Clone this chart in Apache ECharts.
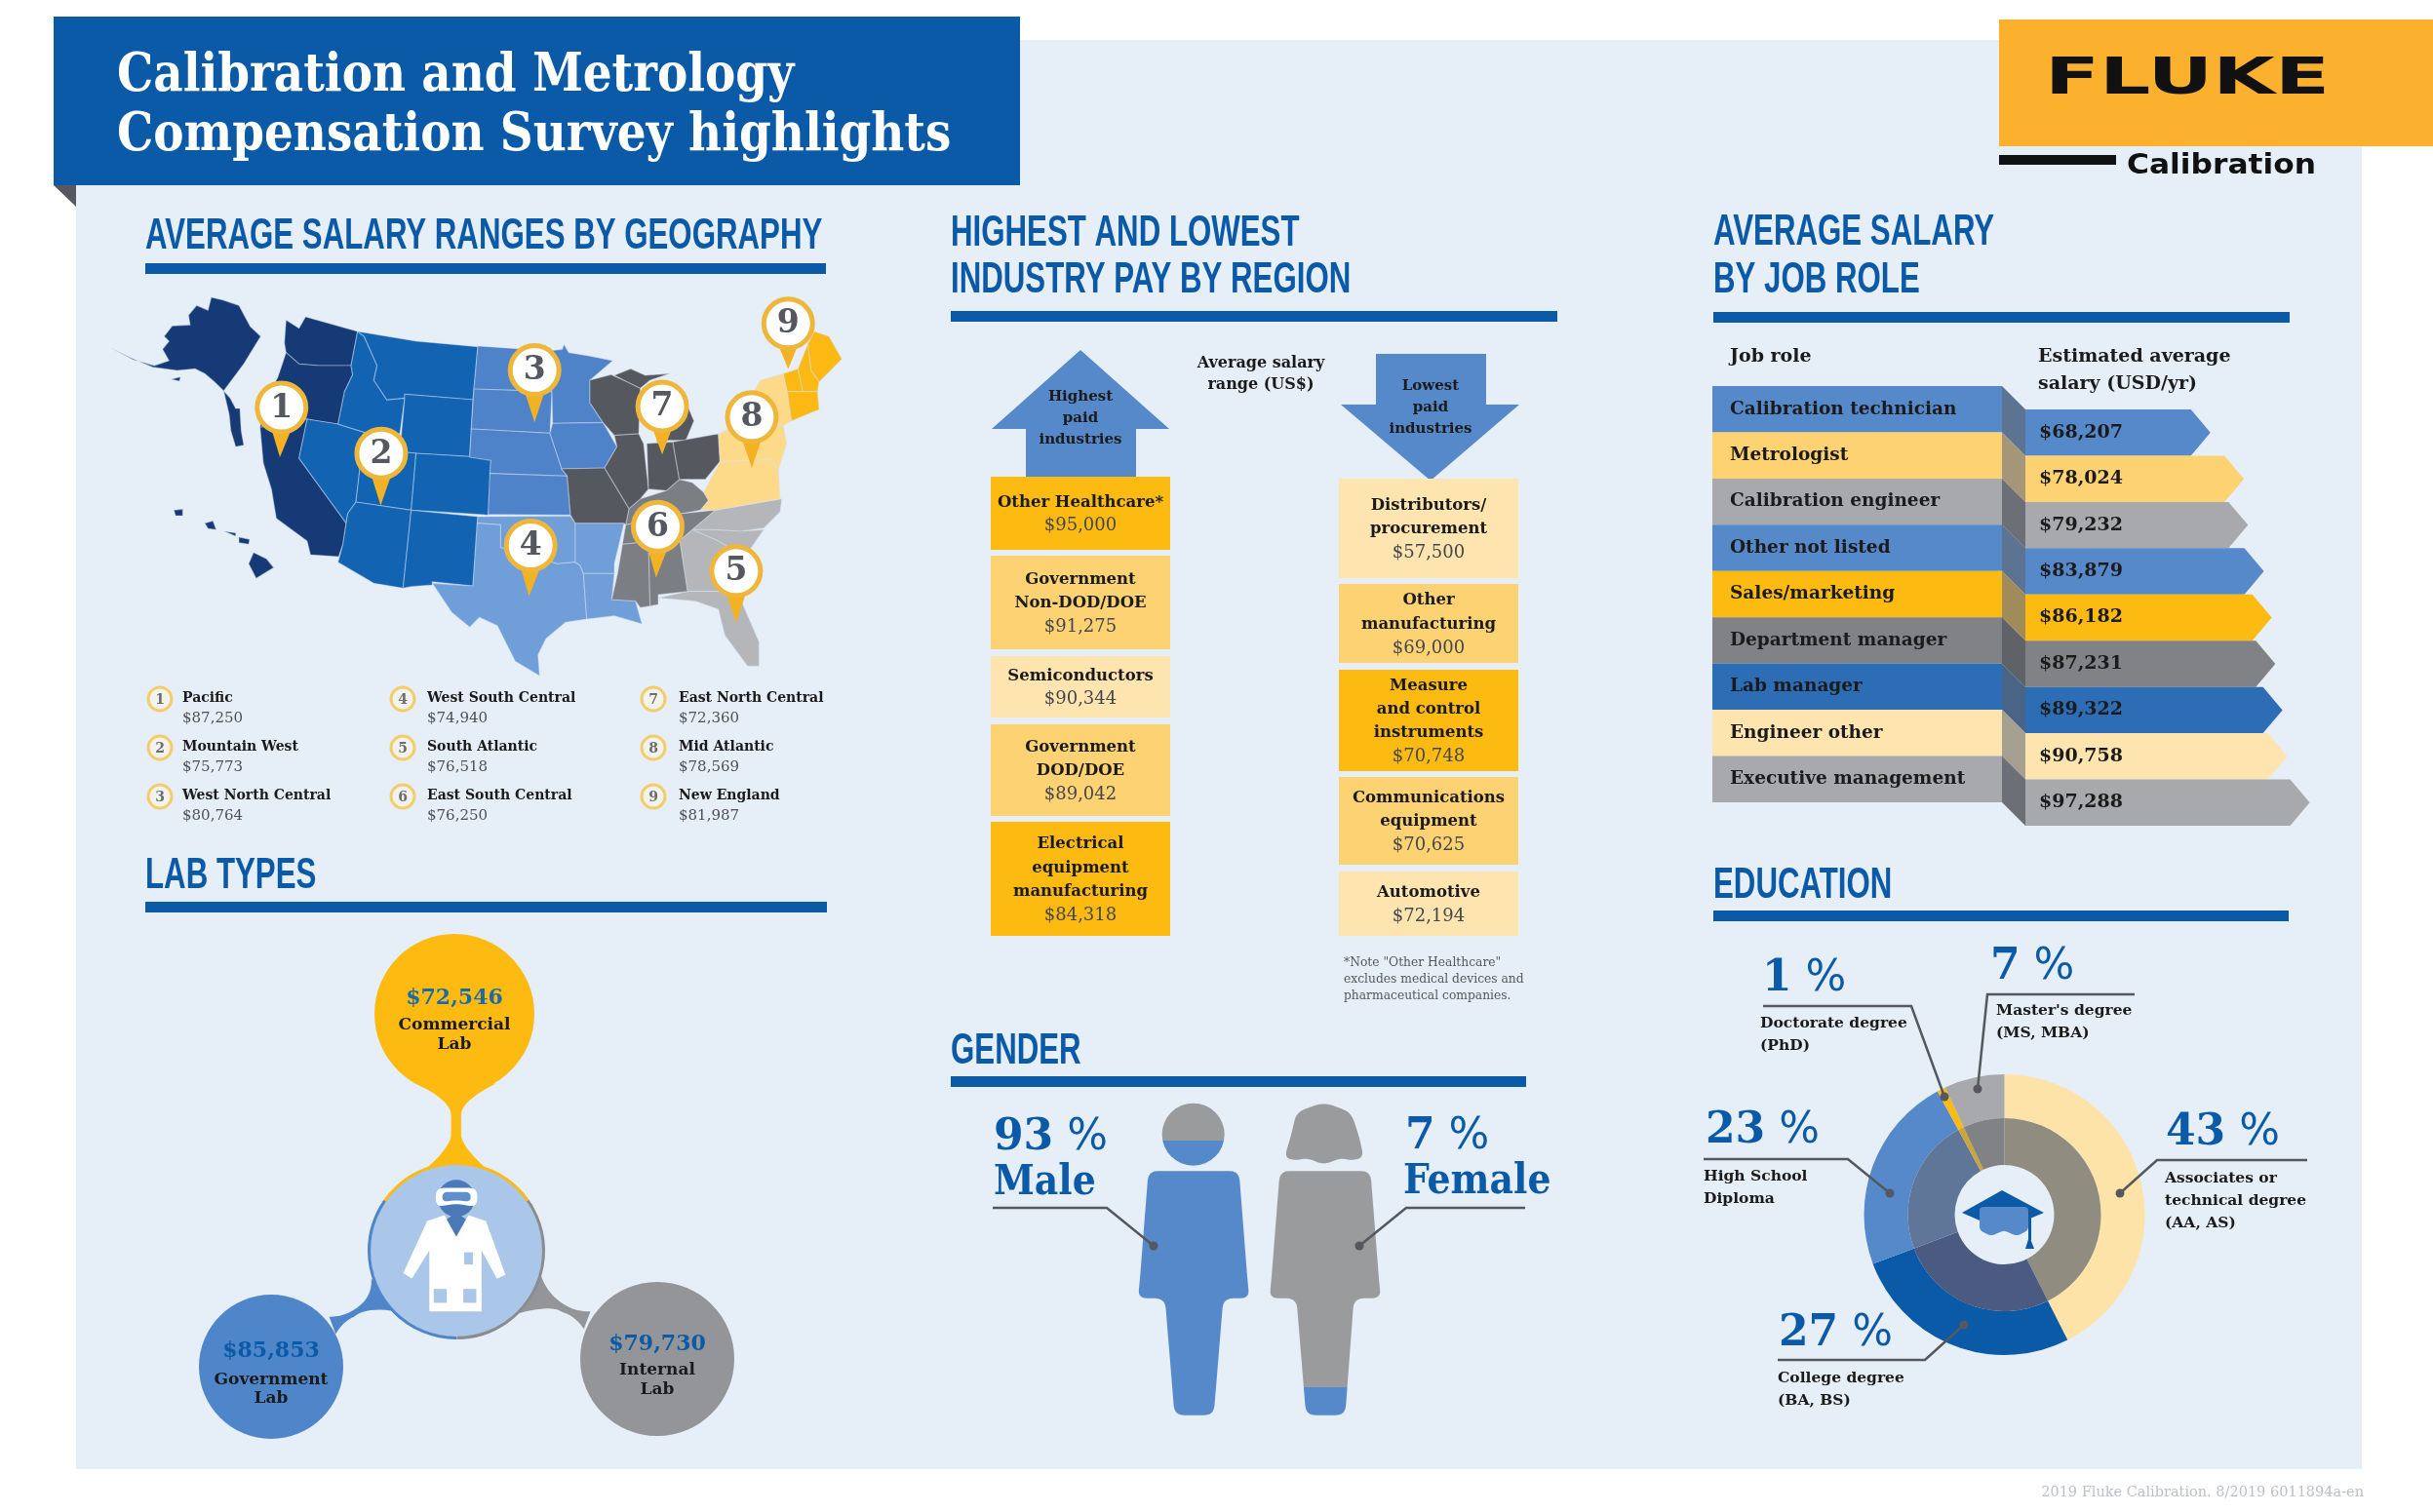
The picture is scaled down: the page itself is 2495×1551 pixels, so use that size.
<!DOCTYPE html>
<html>
<head>
<meta charset="utf-8">
<title>Calibration and Metrology Compensation Survey highlights</title>
<script src="https://cdn.jsdelivr.net/npm/echarts@6/dist/echarts.min.js"></script>
<style>html,body{margin:0;background:#fff}</style>
</head>
<body>
<div id="main" style="width:2495px;height:1551px;"></div>
<script>
// chart values
var regionNames = ['Pacific', 'Mountain West', 'West North Central', 'West South Central', 'South Atlantic', 'East South Central', 'East North Central', 'Mid Atlantic', 'New England'];
var regionSalaries = [87250, 75773, 80764, 74940, 76518, 76250, 72360, 78569, 81987];
var highestIndustries = ['Other Healthcare*', 'Government\nNon-DOD/DOE', 'Semiconductors', 'Government\nDOD/DOE', 'Electrical\nequipment\nmanufacturing'];
var highestPay = [95000, 91275, 90344, 89042, 84318];
var lowestIndustries = ['Distributors/\nprocurement', 'Other\nmanufacturing', 'Measure\nand control\ninstruments', 'Communications\nequipment', 'Automotive'];
var lowestPay = [57500, 69000, 70748, 70625, 72194];
var jobRoles = ['Calibration technician', 'Metrologist', 'Calibration engineer', 'Other not listed', 'Sales/marketing', 'Department manager', 'Lab manager', 'Engineer other', 'Executive management'];
var jobSalaries = [68207, 78024, 79232, 83879, 86182, 87231, 89322, 90758, 97288];
var labTypes = ['Commercial\nLab', 'Government\nLab', 'Internal\nLab'];
var labSalaries = [72546, 85853, 79730];
var educationLevels = ["Associates or\ntechnical degree\n(AA, AS)", 'College degree\n(BA, BS)', 'High School\nDiploma', 'Doctorate degree\n(PhD)', "Master's degree\n(MS, MBA)"];
var educationShares = [43, 27, 23, 1, 7];
var genderNames = ['Male', 'Female'];
var genderShares = [93, 7];

// styling
var SLAB = '"DejaVu Serif",serif';
var SLABC = '"DejaVu Serif Condensed","DejaVu Serif",serif';
var BLUE = '#0b5aa8', MIDBLUE = '#5589c9', GOLD = '#fdbb12', MIDGOLD = '#fdd272', CREAM = '#fee5b0', GRAY = '#a7a9ac', DARK = '#1b1b1b', LEAD = '#55585e';
var regionColors = ['#163a75', '#1263b2', '#4e83c9', '#6f9ed8', '#b4b6b9', '#7b7e82', '#55585e', '#fdd98a', '#fcb813'];
var jobColors = [MIDBLUE, MIDGOLD, GRAY, MIDBLUE, GOLD, '#808285', '#2c6db6', CREAM, GRAY];
var jobFolds = ['#5c7391', '#a5967a', '#6c6f75', '#5c7391', '#a08b5a', '#5f6266', '#4a6486', '#a5a090', '#6c6f75'];

function money(v) { return '$' + v.toLocaleString('en-US'); }

var g = [];
function rect(x, y, w, h, fill, z) { g.push({ type: 'rect', silent: true, z: z || 0, shape: { x: x, y: y, width: w, height: h }, style: { fill: fill } }); }
function poly(pts, fill, z) { g.push({ type: 'polygon', silent: true, z: z || 0, shape: { points: pts }, style: { fill: fill } }); }
function circle(x, y, r, fill, z, stroke, lw) { g.push({ type: 'circle', silent: true, z: z || 0, shape: { cx: x, cy: y, r: r }, style: { fill: fill, stroke: stroke, lineWidth: lw || 0 } }); }
function leader(pts, z) {
  g.push({ type: 'polyline', silent: true, z: z || 10, shape: { points: pts }, style: { stroke: LEAD, lineWidth: 2.5, fill: null } });
  var end = pts[pts.length - 1];
  circle(end[0], end[1], 4.5, LEAD, (z || 10) + 1);
}
function text(x, y, str, font, fill, align, z, sx) {
  g.push({ type: 'text', silent: true, z: z || 5, x: x, y: y, scaleX: sx || 1, style: { text: str, font: font, fill: fill, textAlign: align || 'left', align: align || 'left', textVerticalAlign: 'middle', verticalAlign: 'middle' } });
}
function block(x, cy, lines, lh, font, fill, align, z) {
  lines.forEach(function (l, i) { text(x, cy + (i - (lines.length - 1) / 2) * lh, l, font, fill, align, z); });
}
function bigPct(x, y, n, size) {
  g.push({ type: 'text', silent: true, z: 5, x: x, y: y, style: { text: '{n|' + n + '}{p| %}', textVerticalAlign: 'middle', verticalAlign: 'middle', rich: {
    n: { fontFamily: '"DejaVu Serif"', fontWeight: 'bold', fontSize: size, fill: BLUE },
    p: { fontFamily: '"DejaVu Sans"', fontSize: size, fill: BLUE } } } });
}
// rounds the corners of a polygon by sampling a small curve at each vertex
function rounded(pts, r) {
  var out = [];
  pts.forEach(function (p, i) {
    var a = pts[(i + pts.length - 1) % pts.length], b = pts[(i + 1) % pts.length];
    var la = Math.hypot(a[0] - p[0], a[1] - p[1]), lb = Math.hypot(b[0] - p[0], b[1] - p[1]);
    var da = Math.min(r, la / 2), db = Math.min(r, lb / 2);
    var s = [p[0] + (a[0] - p[0]) * da / la, p[1] + (a[1] - p[1]) * da / la];
    var e = [p[0] + (b[0] - p[0]) * db / lb, p[1] + (b[1] - p[1]) * db / lb];
    for (var t = 0; t <= 1; t += 0.2) {
      out.push([(1 - t) * (1 - t) * s[0] + 2 * t * (1 - t) * p[0] + t * t * e[0], (1 - t) * (1 - t) * s[1] + 2 * t * (1 - t) * p[1] + t * t * e[1]]);
    }
  });
  return out;
}
function qc(p0, c, p1) {
  var out = [];
  for (var t = 0; t <= 1.001; t += 0.1) {
    out.push([(1 - t) * (1 - t) * p0[0] + 2 * t * (1 - t) * c[0] + t * t * p1[0], (1 - t) * (1 - t) * p0[1] + 2 * t * (1 - t) * c[1] + t * t * p1[1]]);
  }
  return out;
}
function splitFill(offset, c1, c2) {
  return new echarts.graphic.LinearGradient(0, 0, 0, 1, [{ offset: 0, color: c1 }, { offset: offset, color: c1 }, { offset: offset, color: c2 }, { offset: 1, color: c2 }]);
}

// ---------- frame
rect(78, 41, 2344, 1466, '#e6eef8', -5);
rect(55, 17, 991, 173, BLUE);
poly([[55, 190], [78, 190], [78, 212]], '#55585e');
text(120, 79, 'Calibration and Metrology', 'bold 54px ' + SLABC, '#fff', 'left', 5, 0.965);
text(120, 140, 'Compensation Survey highlights', 'bold 54px ' + SLABC, '#fff', 'left', 5, 0.965);
rect(2050, 20, 445, 130, '#fbb12e');
text(2097, 82, 'FLUKE', 'bold 52px "DejaVu Sans"', '#111', 'left', 5, 1.58);
rect(2050, 159, 120, 10, '#111');
text(2181, 170, 'Calibration', 'bold 29px "DejaVu Sans"', '#111', 'left', 5, 1.08);
text(2424, 1531, '2019 Fluke Calibration. 8/2019 6011894a-en', '14.5px ' + SLAB, '#bcc0c6', 'right');

function heading(x, ys, lines, x2, ruleY) {
  lines.forEach(function (l, i) { text(x, ys[i] + 3, l, 'bold 44px "Liberation Sans"', BLUE, 'left', 5, 0.71); });
  rect(x, ruleY, x2 - x, 11, BLUE);
}
heading(149, [240], ['AVERAGE SALARY RANGES BY GEOGRAPHY'], 847, 270);
heading(975, [237, 285], ['HIGHEST AND LOWEST', 'INDUSTRY PAY BY REGION'], 1597, 319);
heading(1757, [236, 285], ['AVERAGE SALARY', 'BY JOB ROLE'], 2348, 320);
heading(149, [896], ['LAB TYPES'], 848, 925);
heading(975, [1076], ['GENDER'], 1565, 1104);
heading(1757, [906], ['EDUCATION'], 2347, 934);

var stateShapes = [
  ['AK', 0, 'W', [[[320,30],[355,38],[405,55],[440,120],[472,150],[420,235],[358,318],[330,290],[300,265],[270,250],[215,255],[140,245],[70,215],[10,185],[80,222],[145,240],[190,225],[170,190],[190,165],[175,150],[200,118],[255,115],[250,85],[275,55],[310,70]], [[358,318],[378,340],[395,372],[408,372],[412,440],[420,485],[395,490],[380,440],[375,390]], [[197,282],[225,275],[222,288]]]],
  ['HI', 0, 'W', [[[450,815],[490,835],[512,862],[458,895],[435,850]], [[300,725],[325,718],[335,745],[310,742]], [[360,750],[395,755],[395,765]], [[405,768],[438,775],[435,790],[405,785]], [[205,685],[232,682],[232,702],[210,702]]]],
  ['WA', 0, 'W', [[[550,100],[590,125],[610,90],[770,135],[750,240],[650,240],[590,235],[550,200],[545,170]]]],
  ['OR', 0, 'W', [[[550,200],[590,235],[650,240],[750,240],[755,268],[730,320],[710,420],[615,405],[470,430],[490,340],[525,275]]]],
  ['CA', 0, 'W', [[[470,430],[615,405],[590,525],[735,725],[725,790],[712,828],[625,822],[615,780],[520,710],[505,620],[480,540]]]],
  ['NV', 1, 'W', [[[615,405],[710,420],[790,445],[765,660],[740,695],[735,725],[590,525]]]],
  ['ID', 1, 'W', [[[770,135],[790,150],[830,240],[820,285],[860,345],[915,340],[900,450],[790,445],[710,420],[730,320],[755,268],[750,240]]]],
  ['MT', 1, 'W', [[[770,135],[950,165],[1140,182],[1125,345],[915,328],[915,340],[860,345],[820,285],[830,240],[790,150]]]],
  ['WY', 1, 'W', [[[915,328],[1125,345],[1115,520],[950,510],[900,505],[915,340]]]],
  ['UT', 1, 'W', [[[790,445],[900,450],[900,505],[950,510],[935,685],[765,660]]]],
  ['CO', 1, 'W', [[[950,510],[1115,520],[1180,530],[1172,700],[1100,695],[935,685]]]],
  ['AZ', 1, 'W', [[[765,660],[935,685],[910,925],[820,910],[710,845],[725,790],[735,725],[740,695]]]],
  ['NM', 1, 'W', [[[935,685],[1140,705],[1125,918],[1000,905],[1000,915],[935,920],[910,925]]]],
  ['ND', 2, 'E', [[[60,180],[280,195],[288,320],[48,312]]]],
  ['SD', 2, 'E', [[[48,312],[288,320],[282,448],[40,435]]]],
  ['NE', 2, 'E', [[[40,435],[282,448],[318,558],[335,580],[97,572],[100,532],[35,522]]]],
  ['KS', 2, 'E', [[[97,572],[335,580],[345,700],[92,698]]]],
  ['MN', 2, 'E', [[[280,195],[320,190],[325,175],[340,200],[400,210],[475,225],[405,285],[405,355],[445,415],[290,418],[288,320]]]],
  ['IA', 2, 'E', [[[290,418],[445,415],[488,490],[450,555],[318,558],[282,448]]]],
  ['OK', 3, 'E', [[[60,705],[345,703],[360,725],[360,845],[305,850],[230,830],[130,800],[130,730],[58,725]]]],
  ['TX', 3, 'E', [[[58,725],[130,730],[130,800],[230,830],[305,850],[360,845],[375,855],[385,880],[395,1020],[330,1030],[270,1080],[245,1130],[250,1195],[175,1150],[120,1040],[65,1015],[35,1045],[-20,1000],[-80,910],[45,918]]]],
  ['AR', 3, 'E', [[[360,725],[510,725],[480,850],[480,880],[385,880],[375,855],[360,845]]]],
  ['LA', 3, 'E', [[[385,880],[480,880],[472,960],[545,965],[565,1035],[480,1010],[395,1020]]]],
  ['NC', 4, 'E', [[[690,770],[790,685],[995,650],[990,690],[940,740],[870,750],[780,745],[720,745]]]],
  ['SC', 4, 'E', [[[720,745],[780,745],[870,750],[940,745],[880,830],[800,780]]]],
  ['GA', 4, 'E', [[[680,770],[690,770],[720,745],[800,780],[880,830],[860,900],[840,935],[705,935]]]],
  ['FL', 4, 'E', [[[615,955],[705,935],[840,935],[860,940],[925,1090],[925,1165],[890,1165],[820,1070],[800,990],[730,965]]]],
  ['KY', 5, 'E', [[[525,680],[560,650],[640,625],[680,590],[720,600],[755,630],[770,655],[745,685],[690,695],[515,730]]]],
  ['TN', 5, 'E', [[[515,730],[690,695],[790,685],[690,770],[680,770],[585,782],[505,790]]]],
  ['MS', 5, 'E', [[[505,790],[585,782],[590,980],[560,985],[545,965],[472,960],[490,880]]]],
  ['AL', 5, 'E', [[[585,782],[680,770],[705,935],[615,945],[615,975],[590,980]]]],
  ['MO', 6, 'E', [[[318,558],[450,555],[465,580],[525,680],[515,730],[510,725],[360,725],[345,700],[335,580]]]],
  ['WI', 6, 'E', [[[405,285],[470,268],[520,290],[560,310],[555,450],[480,455],[445,415],[405,355]]]],
  ['MI', 6, 'E', [[[480,270],[530,250],[575,270],[650,265],[590,285],[560,310],[520,290]], [[620,285],[660,300],[710,375],[725,410],[700,470],[640,470],[610,475],[640,400]]]],
  ['IL', 6, 'E', [[[480,455],[555,450],[570,480],[585,620],[560,650],[525,680],[465,580],[450,555],[488,490]]]],
  ['IN', 6, 'E', [[[580,480],[660,475],[680,590],[640,625],[585,620]]]],
  ['OH', 6, 'E', [[[660,475],[800,450],[805,535],[760,590],[680,590]]]],
  ['VA', 7, 'E', [[[745,685],[770,655],[755,630],[805,535],[960,530],[985,560],[990,650],[790,685]]]],
  ['PA', 7, 'E', [[[805,535],[800,450],[920,430],[1000,425],[1010,480],[985,560],[960,530]]]],
  ['NY', 7, 'E', [[[800,450],[840,430],[930,285],[1000,265],[1012,320],[1025,410],[1000,425],[920,430]]]],
  ['ME', 8, 'E', [[[1095,135],[1140,150],[1180,220],[1110,290],[1085,255],[1075,175]]]],
  ['VT', 8, 'E', [[[1000,265],[1045,250],[1060,320],[1012,320]]]],
  ['NH', 8, 'E', [[[1045,250],[1075,175],[1085,255],[1110,290],[1105,320],[1060,320]]]],
  ['MA', 8, 'E', [[[1012,320],[1105,320],[1110,375],[1025,410]]]]
];
var mapOrigin = { W: [110, 295], E: [470, 295] };
var minX = 1e9, minY = 1e9, maxX = -1e9, maxY = -1e9;
var features = stateShapes.map(function (s) {
  var o = mapOrigin[s[2]];
  var rings = s[3].map(function (ring) {
    return [ring.map(function (p) {
      var c = [o[0] + p[0] / 3, o[1] + p[1] / 3];
      minX = Math.min(minX, c[0]); minY = Math.min(minY, c[1]); maxX = Math.max(maxX, c[0]); maxY = Math.max(maxY, c[1]);
      return c;
    })];
  });
  return { type: 'Feature', properties: { name: s[0] }, geometry: { type: 'MultiPolygon', coordinates: rings } };
});
echarts.registerMap('usRegions', { type: 'FeatureCollection', features: features });
var mapData = stateShapes.map(function (s) {
  return { name: s[0], value: regionSalaries[s[1]], region: regionNames[s[1]], itemStyle: { areaColor: regionColors[s[1]] } };
});

// pins: circle centre and tip on the map
var MX = 1 / 1.742, MY = 1 / 1.823;
function mp(x, y) { return [x * MX, y * MY]; }
var pinPlaces = [[503,762,500,855],[681,848,680,945],[955,692,955,790],[948,1020,945,1115],[1315,1068,1315,1165],[1175,985,1172,1080],[1183,760,1183,850],[1343,780,1343,875],[1408,605,1408,690]];
pinPlaces.forEach(function (p, i) {
  var c = mp(p[0], p[1]), t = mp(p[2], p[3]);
  poly([[c[0] - 11, c[1] + 20], [c[0] + 11, c[1] + 20], [t[0], t[1]]], '#f2b224', 20);
  circle(c[0], c[1], 25, '#fff', 21, '#eeb63a', 5);
  text(c[0], c[1] + 1, String(i + 1), 'bold 33px "DejaVu Serif"', '#55585e', 'center', 22);
});

// map key
var keyX = [164, 413, 670], keyTextX = [187, 438, 696], keyY = [717, 767, 817];
regionNames.forEach(function (n, i) {
  var col = Math.floor(i / 3), row = i % 3;
  circle(keyX[col], keyY[row], 12, '#f3f3ee', 5, '#f3cd6c', 3);
  text(keyX[col], keyY[row] + 1, String(i + 1), 'bold 14px "DejaVu Serif"', '#6a6d73', 'center', 6);
  text(keyTextX[col], keyY[row] - 1, n, 'bold 14px ' + SLAB, DARK);
  text(keyTextX[col], keyY[row] + 20, money(regionSalaries[i]), '15px ' + SLAB, '#4f5156');
});

// ---------- industry columns
poly([[1108, 359], [1199, 440], [1165, 440], [1165, 490], [1052, 490], [1052, 440], [1017, 440]], MIDBLUE);
block(1108, 429, ['Highest', 'paid', 'industries'], 22, 'bold 15px ' + SLAB, DARK, 'center');
poly([[1411, 363], [1524, 363], [1524, 415], [1558, 415], [1467, 493], [1375, 415], [1411, 415]], MIDBLUE);
block(1467, 418, ['Lowest', 'paid', 'industries'], 22, 'bold 15px ' + SLAB, DARK, 'center');
block(1293, 384, ['Average salary', 'range (US$)'], 22, 'bold 16px ' + SLAB, DARK, 'center');

var highestRows = [[489, 564, GOLD], [570, 666, MIDGOLD], [673, 736, CREAM], [743, 837, MIDGOLD], [843, 960, GOLD]];
var lowestRows = [[491, 593, CREAM], [599, 680, MIDGOLD], [687, 791, GOLD], [797, 887, MIDGOLD], [894, 960, CREAM]];
function industryColumn(x, w, rows, names, pay) {
  rows.forEach(function (r, i) {
    rect(x, r[0], w, r[1] - r[0], r[2], 1);
    var lines = names[i].split('\n');
    var n = lines.length + 1, cy = (r[0] + r[1]) / 2 + 1;
    lines.forEach(function (l, k) { text(x + w / 2, cy + (k - (n - 1) / 2) * 24.4, l, 'bold 16.5px ' + SLAB, DARK, 'center'); });
    text(x + w / 2, cy + (n - 1) / 2 * 24.4, money(pay[i]), '18px ' + SLAB, '#44464b', 'center');
  });
}
industryColumn(1016, 184, highestRows, highestIndustries, highestPay);
industryColumn(1373, 184, lowestRows, lowestIndustries, lowestPay);
block(1378, 1005, ['*Note "Other Healthcare"', 'excludes medical devices and', 'pharmaceutical companies.'], 17, '12.3px ' + SLAB, '#55585e');

// ---------- job role headers
text(1774, 366, 'Job role', 'bold 19px ' + SLAB, DARK);
block(2090, 380, ['Estimated average', 'salary (USD/yr)'], 28, 'bold 19px ' + SLAB, DARK);

// ---------- lab types
var lab = { cx: [466, 278, 674], cy: [1040, 1402, 1394], r: [82, 74, 79], fill: [GOLD, '#4f86c9', '#939598'] };
function lz(x, y) { return [130 + x / 2.24, 940 + y / 2.8]; }
function lq(a, b, c) { return qc(lz(a[0], a[1]), lz(b[0], b[1]), lz(c[0], c[1])); }
poly(lq([665, 480], [745, 530], [745, 570]).concat(lq([745, 630], [740, 690], [585, 820]), lq([935, 830], [775, 690], [768, 630]), lq([768, 570], [768, 530], [848, 480])), GOLD, 1);
poly(lq([562, 1040], [565, 1105], [510, 1138]).concat(lq([510, 1138], [490, 1150], [465, 1150]), lq([480, 1200], [495, 1165], [522, 1150]), lq([522, 1150], [550, 1120], [620, 1135])), '#4f86c9', 1);
poly(lq([950, 1025], [965, 1090], [1015, 1122]).concat(lq([1015, 1122], [1035, 1135], [1065, 1135]), lq([1050, 1185], [1030, 1148], [1000, 1136]), lq([1000, 1136], [975, 1115], [900, 1140])), '#939598', 1);
var labCx = 468, labCy = 1283, labR = 88;
[[GOLD, 3.75, 5.67], ['#4f86c9', 1.57, 3.75], ['#8a8c90', 5.67, 7.85]].forEach(function (a) {
  g.push({ type: 'sector', silent: true, z: 2, shape: { cx: labCx, cy: labCy, r: labR + 3, r0: 0, startAngle: a[1], endAngle: a[2] }, style: { fill: a[0] } });
});
circle(labCx, labCy, labR, '#aac6e8', 3);
lab.cx.forEach(function (cx, i) { circle(cx, lab.cy[i], lab.r[i], lab.fill[i], 2); });
var labTextY = [[1024, 1052, 1072], [1386, 1416, 1435], [1379, 1406, 1426]];
labTypes.forEach(function (n, i) {
  var parts = n.split('\n');
  text(lab.cx[i], labTextY[i][0], money(labSalaries[i]), 'bold 22px "DejaVu Serif"', i === 0 ? '#1d6aa5' : BLUE, 'center');
  text(lab.cx[i], labTextY[i][1], parts[0], 'bold 17px ' + SLAB, DARK, 'center');
  text(lab.cx[i], labTextY[i][2], parts[1], 'bold 17px ' + SLAB, DARK, 'center');
});
// lab coat figure
function lp(list) { return list.map(function (p) { return lz(p[0], p[1]); }); }
poly(lp([[690,875],[730,858],[757,920],[785,858],[825,875],[870,1030],[850,1040],[815,960],[815,1135],[695,1135],[695,960],[655,1040],[635,1025]]), '#fff', 4);
poly(lp([[705,1070],[735,1070],[735,1110],[705,1110]]), '#aac6e8', 5);
poly(lp([[773,1070],[803,1070],[803,1110],[773,1110]]), '#aac6e8', 5);
poly(lp([[775,965],[795,965],[795,1000],[775,1000]]), '#aac6e8', 5);
circle(lz(757, 0)[0], lz(0, 810)[1], 19, '#4a78b8', 4);
poly(rounded(lp([[710,780],[805,780],[805,835],[757,825],[710,835]]), 8), '#fff', 5);
poly(rounded(lp([[725,792],[790,792],[790,820],[757,815],[725,820]]), 5), '#5f8fcc', 6);
poly(lp([[735,870],[757,920],[779,870],[757,850]]), '#4a78b8', 5);

// ---------- gender figures
function gz(x, y) { return [950 + x / 2.24, 1037 + y / 2.985]; }
function gp(list) { return list.map(function (p) { return gz(p[0], p[1]); }); }
var figGray = '#9a9b9d';
var maleHead = gz(613, 378);
circle(maleHead[0], maleHead[1], 32, splitFill(0.6, figGray, MIDBLUE), 3);
poly(rounded(gp([[510,490],[718,490],[738,830],[742,880],[682,880],[660,1238],[570,1238],[548,880],[486,880],[490,830]]), 10), MIDBLUE, 3);
poly(rounded(gp([[913,280],[975,310],[993,380],[1005,450],[975,458],[950,450],[913,472],[875,450],[850,458],[822,450],[838,380],[850,310]]), 9), figGray, 3);
poly(rounded(gp([[812,490],[1020,490],[1040,830],[1044,880],[982,880],[962,1238],[872,1238],[850,880],[788,880],[792,830]]), 10), splitFill(0.885, figGray, MIDBLUE), 3);
bigPct(1019, 1168, genderShares[0], 44);
text(1019, 1214, genderNames[0], 'bold 42px ' + SLABC, BLUE);
bigPct(1441, 1167, genderShares[1], 44);
text(1439, 1213, genderNames[1], 'bold 42px ' + SLABC, BLUE);
leader([[1018, 1239], [1135, 1239], [1183, 1278]]);
leader([[1564, 1239], [1442, 1239], [1394, 1278]]);

// ---------- education labels
var eduCallouts = [
  { x: 2221, y: 1163, lx: 2220, ly: 1209, line: [[2366, 1190], [2212, 1190], [2174, 1224]] },
  { x: 1824, y: 1369, lx: 1823, ly: 1414, line: [[1823, 1395], [1974, 1395], [2014, 1359]] },
  { x: 1749, y: 1161, lx: 1747, ly: 1207, line: [[1747, 1189], [1895, 1189], [1938, 1224]] },
  { x: 1807, y: 1005, lx: 1805, ly: 1050, line: [[1808, 1032], [1960, 1032], [1994, 1125]] },
  { x: 2041, y: 993, lx: 2047, ly: 1037, line: [[2189, 1020], [2038, 1020], [2028, 1117]] }
];
educationLevels.forEach(function (n, i) {
  var c = eduCallouts[i];
  bigPct(c.x, c.y, educationShares[i], 44);
  leader(c.line);
  n.split('\n').forEach(function (l, k) { text(c.lx, c.ly + k * 23, l, 'bold 15.5px ' + SLAB, DARK); });
});
var eduOuter = ['#fee3a9', BLUE, MIDBLUE, GOLD, GRAY];
var eduInner = ['#918c80', '#4a5a80', '#5f7698', '#c9a63a', '#808285'];
// graduation cap in the hole
poly(rounded([[2030, 1238], [2080, 1238], [2080, 1262], [2068, 1268], [2055, 1262], [2042, 1268], [2030, 1262]], 4), MIDBLUE, 5);
poly([[2053, 1221], [2096, 1244], [2053, 1262], [2012, 1244]], BLUE, 4);
rect(2080, 1248, 3, 24, BLUE, 5);
poly([[2081, 1268], [2086, 1281], [2077, 1281]], BLUE, 5);

var pieBase = { type: 'pie', center: [2055.5, 1246], startAngle: 90, clockwise: true, silent: true, label: { show: false }, labelLine: { show: false }, emphasis: { disabled: true } };
function pieData(colors) {
  return educationShares.map(function (v, i) { return { name: educationLevels[i], value: v, itemStyle: { color: colors[i] } }; });
}

var myChart = echarts.init(document.getElementById('main'));
var option = {
  backgroundColor: '#fff',
  animation: false,
  grid: { left: 2077, top: 420, width: 301, height: 427 },
  xAxis: { type: 'value', min: 14000, max: 100000, show: false },
  yAxis: { type: 'category', inverse: true, data: jobRoles, show: false },
  graphic: { elements: g },
  series: [
    {
      type: 'map', map: 'usRegions', left: minX, top: minY, width: maxX - minX, height: maxY - minY,
      projection: { project: function (p) { return p; }, unproject: function (p) { return p; } },
      silent: true, roam: false, selectedMode: false,
      label: { show: false }, emphasis: { disabled: true },
      itemStyle: { borderColor: 'rgba(215,228,245,0.4)', borderWidth: 1.2 },
      data: mapData
    },
    Object.assign({}, pieBase, { radius: [99, 144], data: pieData(eduOuter) }),
    Object.assign({}, pieBase, { radius: [51, 99], data: pieData(eduInner) }),
    {
      type: 'custom', coordinateSystem: 'cartesian2d', silent: true, clip: false,
      encode: { x: 0, y: 1 },
      data: jobSalaries.map(function (v, i) { return [v, i]; }),
      renderItem: function (params, api) {
        var i = api.value(1), tip = api.coord([api.value(0), i]), base = api.coord([14000, i]);
        var h = api.size([0, 1])[1], top = tip[1] - h / 2, bot = tip[1] + h / 2;
        var foldW = 24, barW = 297, head = 20;
        return { type: 'group', children: [
          { type: 'rect', shape: { x: base[0] - foldW - barW, y: top - foldW, width: barW, height: h }, style: { fill: jobColors[i] } },
          { type: 'polygon', shape: { points: [[base[0] - foldW, top - foldW], [base[0], top], [base[0], bot], [base[0] - foldW, bot - foldW]] }, style: { fill: jobFolds[i] } },
          { type: 'polygon', shape: { points: [[base[0], top], [tip[0] - head, top], [tip[0], tip[1]], [tip[0] - head, bot], [base[0], bot]] }, style: { fill: jobColors[i] } },
          { type: 'text', x: base[0] - foldW - barW + 18, y: tip[1] - foldW, style: { text: jobRoles[i], font: 'bold 18.5px ' + SLAB, fill: DARK, textAlign: 'left', textVerticalAlign: 'middle', align: 'left', verticalAlign: 'middle' } },
          { type: 'text', x: base[0] + 14, y: tip[1], style: { text: money(api.value(0)), font: 'bold 19px ' + SLAB, fill: DARK, textAlign: 'left', textVerticalAlign: 'middle', align: 'left', verticalAlign: 'middle' } }
        ] };
      }
    }
  ]
};
myChart.setOption(option);
</script>
</body>
</html>
